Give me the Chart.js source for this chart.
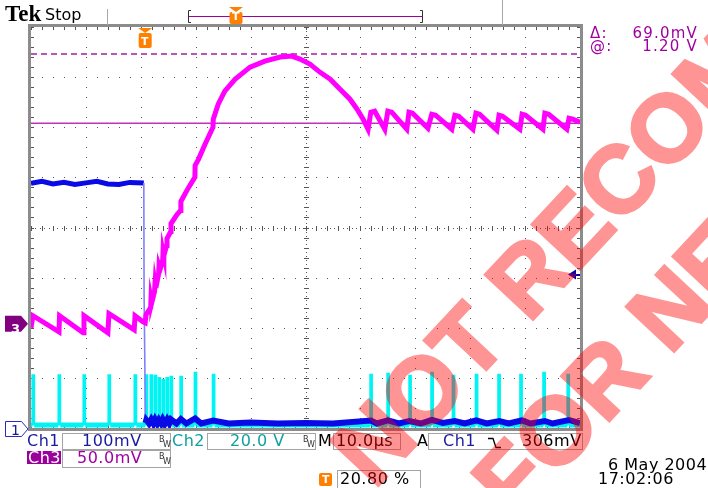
<!DOCTYPE html>
<html>
<head>
<meta charset="utf-8">
<script src="https://cdn.jsdelivr.net/npm/chart.js@4.4.0/dist/chart.umd.min.js"></script>
<style>
  html, body { margin: 0; padding: 0; background: #fff; }
  #wrap { position: relative; width: 708px; height: 488px; overflow: hidden; font-family: "DejaVu Sans", sans-serif; }
  canvas { position: absolute; left: 0; top: 0; }
  .t { position: absolute; white-space: nowrap; font-size: 16px; line-height: 16px; letter-spacing: 0.5px; }
  .s { position: absolute; white-space: nowrap; font-size: 15px; line-height: 15px; letter-spacing: 1.2px; color: #a000a0; }
  .box { position: absolute; border: 1px solid #a4a4a4; box-sizing: border-box; }
  .bw { position: absolute; font-size: 8px; line-height: 8px; color: #333; }
  .ico { position: absolute; font: bold 11px "DejaVu Sans", sans-serif; line-height: 11px; color: #fff; }
  .wm { position: absolute; width: 0; height: 0; transform: rotate(-47deg); transform-origin: 0 0; opacity: 0.42; }
  .wm span { position: absolute; left: 0; bottom: -14.6px; font: bold 95px "Liberation Sans", sans-serif; line-height: 95px; color: #ff0000; -webkit-text-stroke: 3px #ff0000; white-space: nowrap; }
</style>
</head>
<body>
<div id="wrap">
  <canvas id="scope" width="708" height="488"></canvas>

  <div class="t" style="left:5px;top:2px;font:bold 23px 'Liberation Serif',serif;line-height:23px;letter-spacing:0">Tek</div>
  <div class="t" style="left:45px;top:7px;letter-spacing:0">Stop</div>

  <div class="s" style="left:590px;top:26px">&Delta;:</div>
  <div class="s" style="right:10px;top:26px">69.0mV</div>
  <div class="s" style="left:590px;top:39px">@:</div>
  <div class="s" style="right:10px;top:39px">1.20 V</div>

  <div class="t" style="left:11px;top:321px;color:#fff;font-weight:bold;font-size:13px">3</div>
  <div class="t" style="left:11px;top:422px;color:#1a1a90;font-size:14px">1</div>

  <div class="t" style="left:27px;top:433px;color:#1a1aa0">Ch1</div>
  <div class="box" style="left:62px;top:433px;width:109px;height:17px"></div>
  <div class="t" style="left:82px;top:433px;color:#1a1aa0">100mV</div>
  <div class="bw" style="left:159px;top:436px">B</div><div class="bw" style="left:163px;top:441px">W</div>

  <div class="t" style="left:172px;top:433px;color:#10a0a0">Ch2</div>
  <div class="box" style="left:207px;top:433px;width:109px;height:17px"></div>
  <div class="t" style="left:230px;top:433px;color:#10a0a0">20.0 V</div>
  <div class="bw" style="left:303px;top:436px">B</div><div class="bw" style="left:307px;top:441px">W</div>

  <div class="t" style="left:318px;top:433px;color:#000">M</div>
  <div class="box" style="left:333px;top:433px;width:68px;height:17px"></div>
  <div class="t" style="left:336px;top:433px;color:#000">10.0&micro;s</div>

  <div class="t" style="left:417px;top:433px;color:#000">A</div>
  <div class="box" style="left:428px;top:433px;width:155px;height:17px"></div>
  <div class="t" style="left:443px;top:433px;color:#1a1aa0">Ch1</div>
  <div class="t" style="left:522px;top:433px;color:#000">306mV</div>

  <div style="position:absolute;left:27px;top:451px;width:34px;height:13px;background:#9a009a"></div>
  <div class="t" style="left:28px;top:450px;color:#fff">Ch3</div>
  <div class="box" style="left:62px;top:450px;width:109px;height:18px"></div>
  <div class="t" style="left:77px;top:450px;color:#a000a0">50.0mV</div>
  <div class="bw" style="left:159px;top:453px">B</div><div class="bw" style="left:163px;top:458px">W</div>

  <div class="box" style="left:337px;top:470px;width:84px;height:20px"></div>
  <div class="t" style="left:340px;top:471px;color:#000">20.80 %</div>

  <div class="t" style="left:608px;top:457px;color:#000">6 May 2004</div>
  <div class="t" style="left:598px;top:471px;color:#000">17:02:06</div>

  <div class="ico" style="left:141px;top:36px">T</div>
  <div class="ico" style="left:232px;top:11px">T</div>
  <div class="ico" style="left:322px;top:474px">T</div>

  <div class="wm" style="left:374px;top:490px"><span>NOT RECOMMENDED</span></div>
  <div class="wm" style="left:515px;top:522px"><span>FOR NEW DESIGNS</span></div>
</div>

<script>
// time axis: 10 us/div, 0..100 us across the screen
// Ch1 (blue) 100 mV/div, ground at bottom of screen
const ch1Time = [0, 2, 4, 6, 8, 10, 12, 14, 16, 18, 20.55, 20.6, 20.85,
    21.0, 21.5, 21.9, 22.3, 22.6, 23.0, 23.3, 23.7, 24.0, 24.4, 24.8, 25.2, 25.5, 26.5, 27.3, 28.3,
    29.9, 31, 33.2, 36, 40, 45, 50, 55, 61.9, 63, 65.0, 67, 68.9, 71, 73.0, 75, 77.2, 79, 81.1, 83,
    85.3, 87, 89.4, 91, 93.6, 95, 98.0, 100];
const ch1Val = [488, 492, 487, 490, 486, 489, 492, 487, 486, 490, 489, 266, 10,
    16, 9, 17, 9, 17, 9, 16, 9, 17, 9, 17, 9, 17, 9, 18, 9,
    19, 9, 15, 9, 11, 9, 10, 9, 15, 9, 15, 9, 14, 9, 16, 10, 14, 9, 15, 9,
    14, 9, 15, 9, 14, 9, 16, 10];

// Ch2 (cyan) 20 V/div, ground at bottom: switching pulses
const ch2Base = 1.2;
const spikeTime = [0.36, 5.1, 9.65, 14.2, 18.95, 20.95, 21.86, 22.6, 23.32, 24.05, 24.77, 25.5, 27.3, 29.9,
    33.2, 61.9, 65.0, 69.0, 73.0, 76.9, 81.1, 85.2, 89.2, 93.4, 97.8];
const spikeVolt = [21, 21, 21, 21, 21, 21, 21, 20.8, 20, 19.2, 20, 20.4, 20.4, 22,
    21.2, 21.2, 21.6, 20.8, 22, 20.8, 21.2, 21.2, 21.2, 22, 21.2];

// Ch3 (magenta) 50 mV/div, mV above its ground marker
const ch3Time = [0, 0.36, 5.1, 5.2, 9.5, 9.65, 14.0, 14.2, 18.8, 18.95, 20.4, 20.8,
    20.95, 21.8, 21.86, 22.0, 22.5, 22.6, 22.75, 23.25, 23.32, 23.5, 24.0, 24.05, 24.2, 24.7, 24.77,
    25.45, 25.5, 26.0, 26.6, 27.25, 27.3, 28.6, 29.85, 29.9, 30.5, 31.7, 33.15, 33.2, 34.1, 35.3,
    37.2, 39.9, 42.6, 45.4, 47.5, 49.0, 50.8, 52.6, 54.5, 56.3, 58.1, 59.4, 60.5, 61.4,
    61.9, 62.6, 64.45, 65.0, 65.7, 68.45, 68.85, 69.5, 72.3, 73.0, 73.7, 76.65, 77.2, 77.9, 80.5,
    81.05, 81.7, 84.85, 85.25, 85.9, 89.05, 89.45, 90.1, 93.25, 93.6, 94.3, 97.6, 98.0, 98.7, 100];
const ch3Val = [-4, 8, -8, 8, -9, 8, -9, 10, -6, 8, 2, 1,
    9, 16, 25, 21, 32, 41, 36, 50, 58, 55, 64, 72, 68, 78, 85,
    92, 100, 104, 109, 113, 122, 135, 146, 158, 164, 179, 196, 204, 219, 232,
    244, 256, 262, 266, 267, 264, 259, 251, 244, 234, 224, 214, 204, 194,
    211, 212, 194, 212, 211, 194, 211, 210, 195, 209, 208, 194, 208, 207, 194,
    210, 209, 193, 208, 207, 194, 209, 208, 194, 210, 209, 194, 205, 204, 201];

// Ch3 cursors (mV), trigger level (mV on Ch1) and trigger position (us)
const cursorLevels = [200, 269];
const trigLevel = 306;
const trigTime = 20.8;

const pts = (ts, vs) => ts.map((t, i) => ({ x: t, y: vs[i] }));

const ch2Points = [{ x: 0, y: ch2Base }];
spikeTime.forEach((t, i) => {
    ch2Points.push({ x: t - 0.12, y: ch2Base }, { x: t - 0.1, y: spikeVolt[i] },
        { x: t + 0.2, y: spikeVolt[i] }, { x: t + 0.22, y: ch2Base });
});
ch2Points.push({ x: 100, y: ch2Base });

const graticule = {
    id: 'graticule',
    beforeDatasetsDraw(chart) {
        const { ctx, chartArea: a, scales } = chart;
        const X = v => Math.round(scales.x.getPixelForValue(v));
        const Y = v => Math.round(scales.grat.getPixelForValue(v));
        ctx.save();
        ctx.fillStyle = '#555';
        for (let i = 1; i < 10; i++)
            for (let k = 0; k <= 40; k++) ctx.fillRect(X(i * 10), Y(-4 + k / 5), 1, 1);
        for (let j = 1; j < 8; j++)
            for (let k = 0; k <= 50; k++) ctx.fillRect(X(k * 2), Y(-4 + j), 1, 1);
        // centre cross: fine dots and minor ticks
        for (let k = 0; k <= 250; k += 2) ctx.fillRect(X(k * 0.4), Y(0), 1, 1);
        for (let k = 0; k <= 200; k += 2) ctx.fillRect(X(50), Y(-4 + k / 25), 1, 1);
        for (let k = 0; k <= 50; k++) ctx.fillRect(X(k * 2), Y(0) - 2, 1, 5);
        for (let k = 0; k <= 40; k++) ctx.fillRect(X(50) - 2, Y(-4 + k / 5), 5, 1);
        // edge ticks
        for (let k = 0; k <= 50; k++) {
            ctx.fillRect(X(k * 2), a.top, 1, 3);
            ctx.fillRect(X(k * 2), a.bottom - 3, 1, 3);
        }
        for (let k = 0; k <= 40; k++) {
            ctx.fillRect(a.left, Y(-4 + k / 5), 3, 1);
            ctx.fillRect(a.right - 3, Y(-4 + k / 5), 3, 1);
        }
        ctx.strokeStyle = '#8c8c8c';
        ctx.lineWidth = 3;
        ctx.strokeRect(a.left - 1.5, a.top - 1.5, a.right - a.left + 3, a.bottom - a.top + 3);
        ctx.restore();
    }
};

function tIcon(ctx, cx, top, h) {
    ctx.fillStyle = '#ff7f00';
    ctx.beginPath();
    ctx.moveTo(cx - 7, top); ctx.lineTo(cx + 7, top); ctx.lineTo(cx, top + 5); ctx.closePath();
    ctx.fill();
    ctx.beginPath();
    ctx.roundRect(cx - 6.5, top + 5, 13, h, 2);
    ctx.fill();
}

const markers = {
    id: 'markers',
    afterDraw(chart) {
        const { ctx, chartArea: a, scales } = chart;
        ctx.save();
        // top status bar
        ctx.strokeStyle = '#a8a8a8';
        ctx.lineWidth = 1;
        ctx.beginPath();
        ctx.moveTo(107.5, 9); ctx.lineTo(107.5, 25);
        ctx.moveTo(502.5, 0); ctx.lineTo(502.5, 25);
        ctx.stroke();
        ctx.strokeStyle = '#333';
        ctx.beginPath();
        ctx.moveTo(191, 10.5); ctx.lineTo(188.5, 10.5); ctx.lineTo(188.5, 22.5); ctx.lineTo(191, 22.5);
        ctx.moveTo(420, 10.5); ctx.lineTo(422.5, 10.5); ctx.lineTo(422.5, 22.5); ctx.lineTo(420, 22.5);
        ctx.stroke();
        ctx.strokeStyle = '#a000a0';
        ctx.beginPath();
        ctx.moveTo(189, 16.5); ctx.lineTo(422, 16.5);
        ctx.stroke();
        tIcon(ctx, 236, 7, 12);
        // trigger position marker
        tIcon(ctx, scales.x.getPixelForValue(trigTime), 28, 15);
        // bottom trigger-position icon
        ctx.fillStyle = '#ff7f00';
        ctx.beginPath(); ctx.roundRect(319, 473, 13, 13, 2); ctx.fill();
        // Ch3 ground marker
        const y3 = scales.ch3.getPixelForValue(0);
        ctx.fillStyle = '#800080';
        ctx.beginPath();
        ctx.moveTo(5, y3 - 8); ctx.lineTo(21, y3 - 8); ctx.lineTo(28, y3);
        ctx.lineTo(21, y3 + 8); ctx.lineTo(5, y3 + 8); ctx.closePath();
        ctx.fill();
        // Ch1 ground marker
        const y1 = scales.ch1.getPixelForValue(0) + 1;
        ctx.fillStyle = '#fff';
        ctx.strokeStyle = '#2a2ac0';
        ctx.beginPath();
        ctx.moveTo(5.5, y1 - 7.5); ctx.lineTo(21.5, y1 - 7.5); ctx.lineTo(28, y1);
        ctx.lineTo(21.5, y1 + 7.5); ctx.lineTo(5.5, y1 + 7.5); ctx.closePath();
        ctx.fill(); ctx.stroke();
        // trigger level arrow
        const yt = scales.ch1.getPixelForValue(trigLevel);
        ctx.fillStyle = '#0000b0';
        ctx.beginPath();
        ctx.moveTo(568, yt); ctx.lineTo(576, yt - 5); ctx.lineTo(576, yt + 5); ctx.closePath();
        ctx.fill();
        ctx.fillRect(576, Math.round(yt) - 1, a.right - 576, 2);
        // falling slope symbol
        ctx.strokeStyle = '#000';
        ctx.lineWidth = 1.3;
        ctx.beginPath();
        ctx.moveTo(488, 438.5); ctx.lineTo(493, 438.5); ctx.lineTo(496, 447.5); ctx.lineTo(501, 447.5);
        ctx.stroke();
        ctx.restore();
    }
};

const lowFlat = c => (c.p0.parsed.y === c.p1.parsed.y && c.p0.parsed.y < 5 ? 5 : 2);
const steep = c => Math.abs(c.p1.parsed.y - c.p0.parsed.y) > 100;
const lowBand = c => c.p0.parsed.y < 30 && c.p1.parsed.y < 30;

new Chart(document.getElementById('scope'), {
    type: 'line',
    data: {
        datasets: [
            {
                label: 'Ch3', yAxisID: 'ch3', order: 1,
                data: pts(ch3Time, ch3Val),
                borderColor: '#ff00ff', borderWidth: 5
            },
            {
                label: 'Ch1', yAxisID: 'ch1', order: 2,
                data: pts(ch1Time, ch1Val),
                borderColor: '#0a0ae6', borderWidth: 5,
                segment: {
                    borderColor: c => (steep(c) ? '#8080ff' : undefined),
                    borderWidth: c => (steep(c) ? 1.6 : lowBand(c) ? 6 : undefined)
                }
            },
            {
                label: 'Ch2', yAxisID: 'ch2', order: 3,
                data: ch2Points,
                borderColor: '#00f4f4', borderWidth: 2,
                segment: { borderWidth: lowFlat }
            },
            {
                label: 'cursor', yAxisID: 'ch3', order: 4,
                data: [{ x: 0, y: cursorLevels[0] }, { x: 100, y: cursorLevels[0] }],
                borderColor: '#c030c0', borderWidth: 1.5
            },
            {
                label: 'cursor2', yAxisID: 'ch3', order: 5,
                data: [{ x: 0, y: cursorLevels[1] }, { x: 100, y: cursorLevels[1] }],
                borderColor: '#a020a0', borderWidth: 1.5, borderDash: [6, 4]
            }
        ]
    },
    options: {
        responsive: false,
        animation: false,
        events: [],
        layout: { padding: { left: 31, top: 27, right: 128, bottom: 60 } },
        plugins: { legend: { display: false }, tooltip: { enabled: false } },
        elements: { point: { radius: 0 }, line: { tension: 0, borderCapStyle: 'butt' } },
        scales: {
            x: { type: 'linear', axis: 'x', min: 0, max: 100, display: false },
            grat: { type: 'linear', axis: 'y', min: -4, max: 4, display: false },
            ch1: { type: 'linear', axis: 'y', min: 0, max: 800, display: false },
            ch2: { type: 'linear', axis: 'y', min: 0, max: 160, display: false },
            ch3: { type: 'linear', axis: 'y', min: -104, max: 296, display: false }
        }
    },
    plugins: [graticule, markers]
});
</script>
</body>
</html>
